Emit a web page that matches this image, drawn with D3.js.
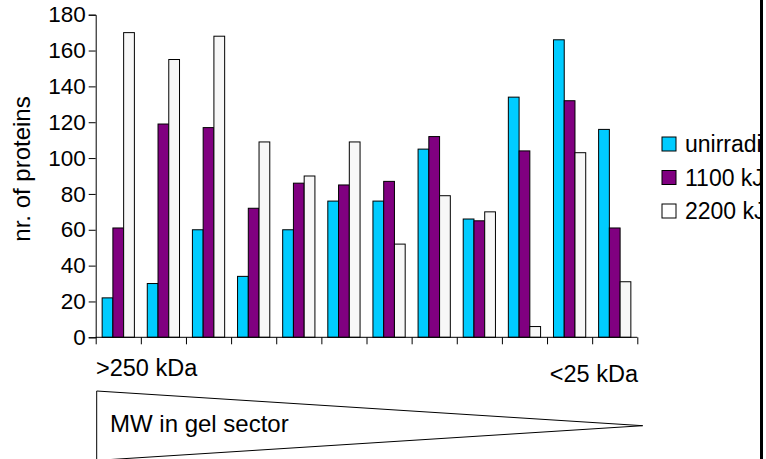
<!DOCTYPE html>
<html>
<head>
<meta charset="utf-8">
<script src="https://cdn.jsdelivr.net/npm/d3@7/dist/d3.min.js"></script>
<style>
  html, body { margin: 0; padding: 0; background: #fff; }
  svg { display: block; font-family: "Liberation Sans", Arial, sans-serif; }
</style>
</head>
<body>
<svg id="chart" width="766" height="459"></svg>
<script>
// Gel sectors, from high to low molecular weight
const sectors = ["1", "2", "3", "4", "5", "6", "7", "8", "9", "10", "11", "12"];
const seriesNames = ["unirradiated", "1100 kJ/m²", "2200 kJ/m²"];
const unirradiated = [22, 30, 60, 34, 60, 76, 76, 105, 66, 134, 166, 116];
const dose1100 = [61, 119, 117, 72, 86, 85, 87, 112, 65, 104, 132, 61];
const dose2200 = [170, 155, 168, 109, 90, 109, 52, 79, 70, 6, 103, 31];
const yTicks = [0, 20, 40, 60, 80, 100, 120, 140, 160, 180];
const colors = ["#00ccff", "#800080", "#f7f7f7"];

const series = [unirradiated, dose1100, dose2200];

const svg = d3.select("#chart");
const plotLeft = 95.7, plotRight = 637.3, plotTop = 14.7, plotBottom = 337.3;

const x = d3.scaleBand().domain(sectors).range([plotLeft, plotRight]).padding(0);
const xs = d3.scaleBand().domain(d3.range(series.length))
  .range([0, x.bandwidth()]).paddingInner(0).paddingOuter(0.6);
const y = d3.scaleLinear().domain([0, 180]).range([plotBottom, plotTop]);

// bars
const groups = svg.append("g").selectAll("g")
  .data(sectors).join("g")
  .attr("transform", d => `translate(${x(d)},0)`);
groups.selectAll("rect")
  .data((d, i) => series.map((s, k) => ({ k, v: s[i] })))
  .join("rect")
  .attr("x", d => xs(d.k))
  .attr("y", d => y(d.v))
  .attr("width", xs.bandwidth())
  .attr("height", d => plotBottom - y(d.v))
  .attr("fill", d => colors[d.k])
  .attr("stroke", "#000")
  .attr("stroke-width", 1);

// y axis
const yAxis = svg.append("g")
  .attr("transform", `translate(${plotLeft},0)`)
  .call(d3.axisLeft(y).tickValues(yTicks).tickSize(7).tickPadding(3));
yAxis.selectAll("text").attr("font-size", 22.5).attr("fill", "#000")
  .attr("font-family", "Liberation Sans, Arial, sans-serif");
yAxis.selectAll("line,path").attr("stroke", "#000");

// x axis: ticks at sector boundaries
const xe = d3.scaleLinear().domain([0, sectors.length]).range([plotLeft, plotRight]);
const xAxis = svg.append("g")
  .attr("transform", `translate(0,${plotBottom})`)
  .call(d3.axisBottom(xe).tickValues(d3.range(sectors.length + 1)).tickSize(7).tickFormat(""));
xAxis.selectAll("line,path").attr("stroke", "#000");
xAxis.select("path").attr("d", `M${plotLeft},0H${plotRight}`);

// y axis title
svg.append("text")
  .attr("transform", `translate(30,169) rotate(-90)`)
  .attr("text-anchor", "middle")
  .attr("font-size", 24)
  .text("nr. of proteins");

// molecular weight range labels
svg.append("text").attr("x", 96).attr("y", 376).attr("font-size", 23.5)
  .text(">250 kDa");
svg.append("text").attr("x", 638).attr("y", 382).attr("font-size", 23.5)
  .attr("text-anchor", "end").text("<25 kDa");

// tapering wedge for decreasing molecular weight
svg.append("path")
  .attr("d", "M96.7,391L642.7,425.7L96.7,460.4Z")
  .attr("fill", "#fff").attr("stroke", "#000").attr("stroke-width", 1);
svg.append("text").attr("x", 110).attr("y", 431.5).attr("font-size", 24)
  .text("MW in gel sector");

// legend, clipped by the frame on the right
svg.append("clipPath").attr("id", "legclip")
  .append("rect").attr("x", 600).attr("y", 0).attr("width", 160).attr("height", 459);
const legend = svg.append("g").attr("clip-path", "url(#legclip)");
const leg = legend.selectAll("g").data(seriesNames).join("g")
  .attr("transform", (d, i) => `translate(662,${137 + i * 33.5})`);
leg.append("rect").attr("width", 14).attr("height", 14)
  .attr("fill", (d, i) => i === 2 ? "#fff" : colors[i])
  .attr("stroke", "#000").attr("stroke-width", 1);
leg.append("text").attr("x", 23).attr("y", 15).attr("font-size", 23)
  .text(d => d);

// right frame line
svg.append("line").attr("x1", 761.5).attr("x2", 761.5).attr("y1", 0).attr("y2", 459)
  .attr("stroke", "#000").attr("stroke-width", 3);
</script>
</body>
</html>
